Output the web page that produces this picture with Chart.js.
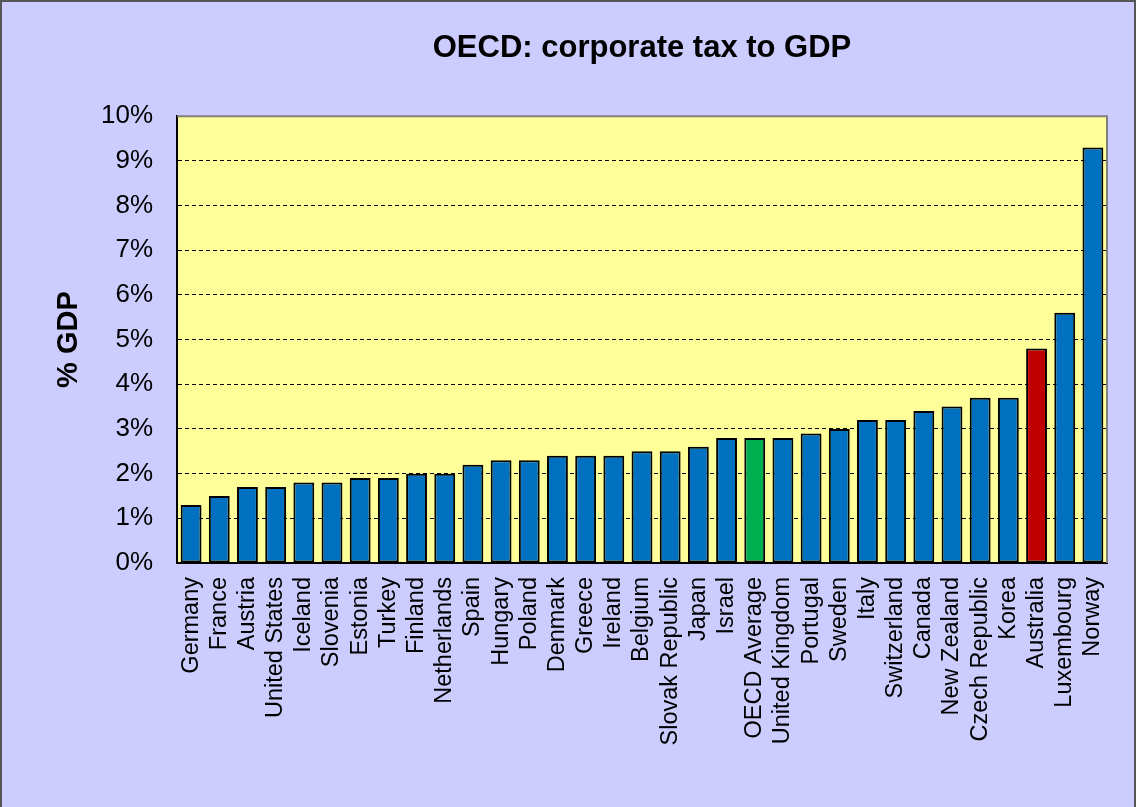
<!DOCTYPE html>
<html>
<head>
<meta charset="utf-8">
<script src="https://cdn.jsdelivr.net/npm/chart.js@4/dist/chart.umd.min.js"></script>
<style>
  html, body { margin: 0; padding: 0; background: #ccccff; }
  #wrap { width: 1136px; height: 807px; }
</style>
</head>
<body>
<div id="wrap"><canvas id="chart" width="1136" height="807"></canvas></div>
<script>
const countries = [
  "Germany", "France", "Austria", "United States", "Iceland", "Slovenia",
  "Estonia", "Turkey", "Finland", "Netherlands", "Spain", "Hungary", "Poland",
  "Denmark", "Greece", "Ireland", "Belgium", "Slovak Republic", "Japan",
  "Israel", "OECD Average", "United Kingdom", "Portugal", "Sweden", "Italy",
  "Switzerland", "Canada", "New Zealand", "Czech Republic", "Korea",
  "Australia", "Luxembourg", "Norway"
];
const taxToGdp = [
  1.3, 1.5, 1.7, 1.7, 1.8, 1.8,
  1.9, 1.9, 2.0, 2.0, 2.2, 2.3, 2.3,
  2.4, 2.4, 2.4, 2.5, 2.5, 2.6,
  2.8, 2.8, 2.8, 2.9, 3.0, 3.2,
  3.2, 3.4, 3.5, 3.7, 3.7,
  4.8, 5.6, 9.3
];
const yTicks = [0, 1, 2, 3, 4, 5, 6, 7, 8, 9, 10];

const FONT = "'Liberation Sans', Arial, sans-serif";

function barColor(name) {
  if (name === "OECD Average") return "#00b050";
  if (name === "Australia") return "#c00000";
  return "#0070c0";
}

// page background, yellow plot area and the grey frame lines
const backdrop = {
  id: "backdrop",
  beforeDraw(chart) {
    const { ctx, width, height, chartArea: a } = chart;
    ctx.save();
    ctx.fillStyle = "#ccccff";
    ctx.fillRect(0, 0, width, height);
    ctx.strokeStyle = "#555555";
    ctx.lineWidth = 2;
    ctx.beginPath();
    ctx.moveTo(1, height);
    ctx.lineTo(1, 1);
    ctx.lineTo(width - 1, 1);
    ctx.lineTo(width - 1, height);
    ctx.stroke();
    ctx.fillStyle = "#ffff99";
    ctx.fillRect(a.left, a.top, a.right - a.left, a.bottom - a.top);
    ctx.restore();
  },
  beforeDatasetsDraw(chart) {
    const { ctx, chartArea: a } = chart;
    ctx.save();
    ctx.strokeStyle = "#808080";
    ctx.lineWidth = 2;
    ctx.beginPath();
    ctx.moveTo(a.left, a.top);
    ctx.lineTo(a.right, a.top);
    ctx.lineTo(a.right, a.bottom);
    ctx.stroke();
    ctx.restore();
  }
};

new Chart(document.querySelector("#chart"), {
  type: "bar",
  data: {
    labels: countries,
    datasets: [
      {
        data: taxToGdp,
        backgroundColor: countries.map(barColor),
        borderColor: "#000000",
        borderWidth: 2,
        borderSkipped: false,
        barPercentage: 0.74,
        categoryPercentage: 1
      }
    ]
  },
  options: {
    responsive: false,
    animation: false,
    layout: { padding: { left: 0, right: 29, top: 0, bottom: 0 } },
    plugins: {
      legend: { display: false },
      tooltip: { enabled: false },
      title: {
        display: true,
        text: "OECD: corporate tax to GDP",
        color: "#000000",
        fullSize: false,
        font: { family: FONT, size: 31, weight: "bold" },
        padding: { top: 30, bottom: 49 }
      }
    },
    scales: {
      x: {
        grid: { display: false, drawTicks: false },
        border: { color: "#000000", width: 2 },
        ticks: {
          autoSkip: false,
          minRotation: 90,
          maxRotation: 90,
          padding: 14,
          color: "#000000",
          font: { family: FONT, size: 23.5 }
        },
        afterFit(scale) {
          scale.height = 244;
        }
      },
      y: {
        min: yTicks[0],
        max: yTicks[yTicks.length - 1],
        afterBuildTicks(scale) {
          scale.ticks = yTicks.map((v) => ({ value: v }));
        },
        grid: {
          drawTicks: false,
          color: (ctx) =>
            ctx.tick && (ctx.tick.value === 0 || ctx.tick.value === 10)
              ? "rgba(0,0,0,0)"
              : "#000000",
          lineWidth: 1
        },
        border: { color: "#000000", width: 2, dash: [4, 3] },
        ticks: {
          padding: 24,
          color: "#000000",
          font: { family: FONT, size: 26 },
          callback: (v) => v + "%"
        },
        title: {
          display: true,
          text: "% GDP",
          color: "#000000",
          font: { family: FONT, size: 29, weight: "bold" },
          padding: { top: 52, bottom: 0 }
        },
        afterFit(scale) {
          scale.width = 177;
        }
      }
    }
  },
  plugins: [backdrop]
});
</script>
</body>
</html>
